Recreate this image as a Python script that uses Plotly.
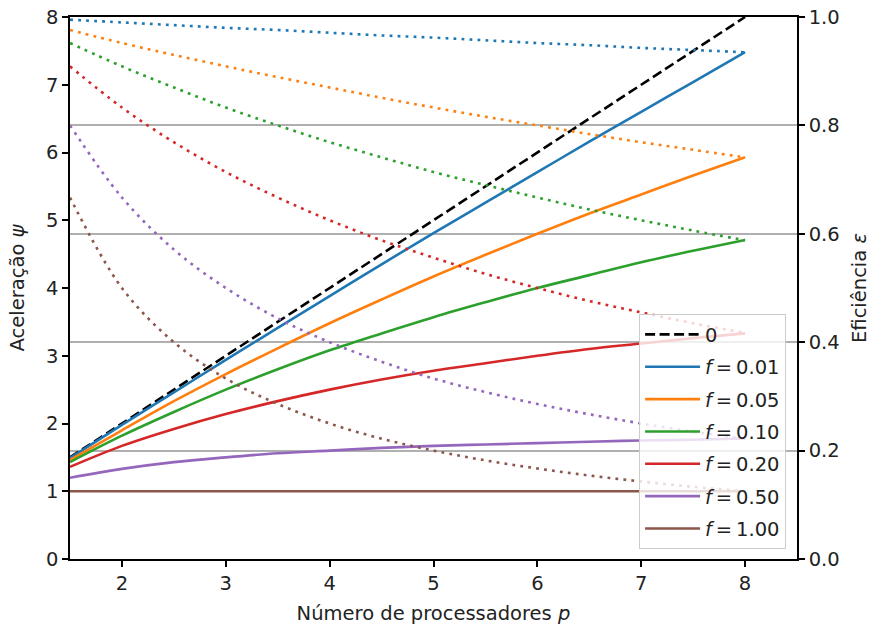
import plotly.graph_objects as go

# Number of processors sampled along the x axis
p_values = [1.5, 2.0, 2.5, 3.0, 3.5, 4.0, 4.5, 5.0, 5.5, 6.0, 6.5, 7.0, 7.5, 8.0]

# Ideal (linear) speedup line
ideal_p = [1.5, 8.0]
ideal_speedup = [1.5, 8.0]

# Serial fractions and their labels
fractions = ["0.01", "0.05", "0.10", "0.20", "0.50", "1.00"]

# Speedup psi for each serial fraction f
speedup_f001 = [1.49, 1.98, 2.46, 2.94, 3.41, 3.88, 4.35, 4.81, 5.26, 5.71, 6.16, 6.60, 7.04, 7.48]
speedup_f005 = [1.46, 1.90, 2.33, 2.73, 3.11, 3.48, 3.83, 4.17, 4.49, 4.80, 5.10, 5.38, 5.66, 5.93]
speedup_f010 = [1.43, 1.82, 2.17, 2.50, 2.80, 3.08, 3.33, 3.57, 3.79, 4.00, 4.19, 4.38, 4.55, 4.71]
speedup_f020 = [1.36, 1.67, 1.92, 2.14, 2.33, 2.50, 2.65, 2.78, 2.89, 3.00, 3.10, 3.18, 3.26, 3.33]
speedup_f050 = [1.20, 1.33, 1.43, 1.50, 1.56, 1.60, 1.64, 1.67, 1.69, 1.71, 1.73, 1.75, 1.76, 1.78]
speedup_f100 = [1.00, 1.00, 1.00, 1.00, 1.00, 1.00, 1.00, 1.00, 1.00, 1.00, 1.00, 1.00, 1.00, 1.00]

# Efficiency epsilon for each serial fraction f
efficiency_f001 = [0.995, 0.990, 0.985, 0.980, 0.976, 0.971, 0.966, 0.962, 0.957, 0.952, 0.948, 0.943, 0.939, 0.935]
efficiency_f005 = [0.976, 0.952, 0.930, 0.909, 0.889, 0.870, 0.851, 0.833, 0.816, 0.800, 0.784, 0.769, 0.755, 0.741]
efficiency_f010 = [0.952, 0.909, 0.870, 0.833, 0.800, 0.769, 0.741, 0.714, 0.690, 0.667, 0.645, 0.625, 0.606, 0.588]
efficiency_f020 = [0.909, 0.833, 0.769, 0.714, 0.667, 0.625, 0.588, 0.556, 0.526, 0.500, 0.476, 0.455, 0.435, 0.417]
efficiency_f050 = [0.800, 0.667, 0.571, 0.500, 0.444, 0.400, 0.364, 0.333, 0.308, 0.286, 0.267, 0.250, 0.235, 0.222]
efficiency_f100 = [0.667, 0.500, 0.400, 0.333, 0.286, 0.250, 0.222, 0.200, 0.182, 0.167, 0.154, 0.143, 0.133, 0.125]

speedups = [speedup_f001, speedup_f005, speedup_f010, speedup_f020, speedup_f050, speedup_f100]
efficiencies = [efficiency_f001, efficiency_f005, efficiency_f010, efficiency_f020, efficiency_f050, efficiency_f100]

colors = ["#1f77b4", "#ff7f0e", "#2ca02c", "#d62728", "#9467bd", "#8c564b"]

FONT = "DejaVu Sans"
FS = 19.5
LW = 2.6

fig = go.Figure()

fig.add_trace(go.Scatter(
    x=ideal_p, y=ideal_speedup, mode="lines", name="0",
    line=dict(color="black", width=LW, dash="10px,4.5px"),
    legendgroup="g0",
))

for i, (frac, sp, col) in enumerate(zip(fractions, speedups, colors)):
    fig.add_trace(go.Scatter(
        x=p_values, y=sp, mode="lines", name=f"<i>f</i>\u2009=\u2009{frac}",
        line=dict(color=col, width=LW, shape="spline"),
        legendgroup=f"g{i + 1}",
    ))

for frac, ef, col in zip(fractions, efficiencies, colors):
    fig.add_trace(go.Scatter(
        x=p_values, y=ef, mode="lines", yaxis="y2", showlegend=False,
        line=dict(color=col, width=LW, dash="2.8px,5.2px", shape="spline"),
    ))

axis_common = dict(
    showline=True, linecolor="black", linewidth=1.5,
    ticks="outside", ticklen=6, tickwidth=1.5, tickcolor="black",
    tickfont=dict(family=FONT, size=FS, color="#222"),
    zeroline=False, automargin=False,
)

fig.update_layout(
    width=871, height=628,
    margin=dict(l=70, r=74, t=17, b=69),
    paper_bgcolor="white", plot_bgcolor="white",
    font=dict(family=FONT, size=FS, color="#222"),
    xaxis=dict(
        range=[1.5, 8.5], tickvals=[2, 3, 4, 5, 6, 7, 8], mirror=True, showgrid=False,
        title=dict(text="Número de processadores <i>p</i>", font=dict(family=FONT, size=FS), standoff=12),
        **axis_common,
    ),
    yaxis=dict(
        range=[0, 8], tickvals=[0, 1, 2, 3, 4, 5, 6, 7, 8], showgrid=False,
        title=dict(text="Aceleração <i>ψ</i>", font=dict(family=FONT, size=FS), standoff=16),
        **axis_common,
    ),
    yaxis2=dict(
        range=[0, 1], tickvals=[0, 0.2, 0.4, 0.6, 0.8, 1.0], tickformat=".1f",
        overlaying="y", side="right", showgrid=True, gridcolor="#b0b0b0", gridwidth=1.5,
        title=dict(text="Eficiência <i>ε</i>", font=dict(family=FONT, size=FS), standoff=16),
        **axis_common,
    ),
    legend=dict(
        x=0.985, y=0.018, xanchor="right", yanchor="bottom",
        bgcolor="rgba(255,255,255,0.8)", bordercolor="#cccccc", borderwidth=1,
        font=dict(family=FONT, size=FS, color="#222"),
        tracegroupgap=4, itemwidth=55,
    ),
)

fig.write_html("out.html")
